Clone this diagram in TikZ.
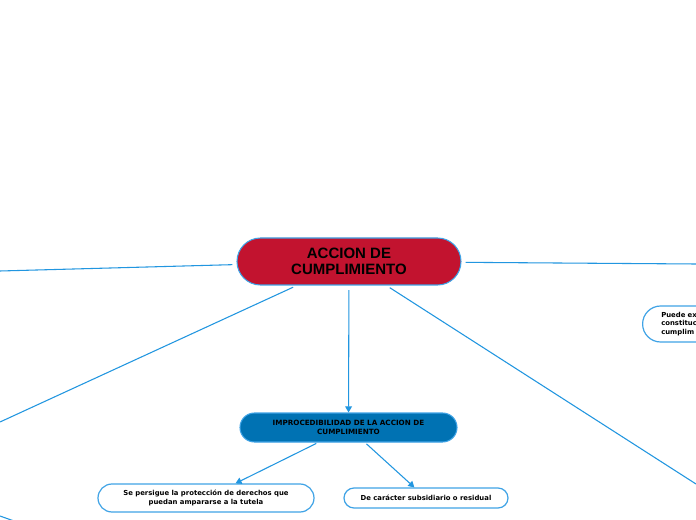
\documentclass[tikz,border=0pt]{standalone}
\usepackage{fontspec}
\setmainfont{DejaVu Sans}
\newfontfamily\arialb{Liberation Sans}
\usetikzlibrary{arrows.meta}
\definecolor{crim}{HTML}{C2132F}
\definecolor{nblue}{HTML}{0072B3}
\definecolor{lblue}{HTML}{2196E0}
\definecolor{bblue}{HTML}{3FA3E6}
\begin{document}
\begin{tikzpicture}[x=0.75pt,y=-0.75pt,
  conn/.style={draw=lblue,line width=0.8pt},
  arr/.style={conn,-{Triangle[length=4.5pt,width=5pt]}},
  mainbox/.style={draw=bblue,line width=0.8pt,fill=crim,rounded corners=17.6pt,
    minimum width=168pt,minimum height=35.25pt,align=center,inner sep=0pt,
    font=\arialb\bfseries\fontsize{11.25}{12.3}\selectfont},
  subbox/.style={draw=bblue,line width=0.8pt,fill=nblue,rounded corners=10.8pt,
    minimum width=162.75pt,minimum height=21.75pt,align=center,inner sep=0pt,
    font=\bfseries\fontsize{5.4}{6.4}\selectfont},
  leafbox/.style={draw=bblue,line width=0.9pt,fill=white,align=center,inner sep=0pt,
    font=\bfseries\fontsize{5.15}{6.1}\selectfont}
]
\useasboundingbox (0,0) rectangle (696,520);
\clip (0,0) rectangle (696,520);
\fill[white] (0,0) rectangle (696,520);

\coordinate (L) at (0,271);
\coordinate (R) at (696,264);
\coordinate (LL) at (0,422);
\coordinate (LR) at (696,484);
\coordinate (BLa) at (0,516);
\coordinate (BLb) at (14,521);

\node[mainbox] (c) at (349,261.5) {ACCION DE\\CUMPLIMIENTO};
\node[subbox] (b) at (348.5,427.5) {IMPROCEDIBILIDAD DE LA ACCION DE\\CUMPLIMIENTO};
\node[leafbox,rounded corners=10.5pt,minimum width=162pt,minimum height=21pt] (s) at (206,498)
  {Se persigue la protección de derechos que\\puedan ampararse a la tutela};
\node[leafbox,rounded corners=7.5pt,minimum width=123pt,minimum height=15pt] (d) at (426,498)
  {De carácter subsidiario o residual};
\node[leafbox,rounded corners=13.5pt,minimum width=110pt,minimum height=27pt,
  anchor=west,text width=110pt,align=left] (p) at (642,324)
  {\hspace*{14pt}Puede ex\\\hspace*{14pt}constituc\\\hspace*{14pt}cumplim};

\draw[conn,shorten <=3pt] (c) -- (L);
\draw[conn,shorten <=3pt] (c) -- (R);
\draw[conn,shorten <=3pt] (c) -- (LL);
\draw[conn,shorten <=3pt] (c) -- (LR);
\draw[arr,shorten <=3.5pt] (c) -- (b);
\draw[arr,shorten <=1.5pt] (b) -- (s);
\draw[arr,shorten <=1.5pt] (b) -- (d);
\draw[conn] (BLa) -- (BLb);
\end{tikzpicture}
\end{document}
